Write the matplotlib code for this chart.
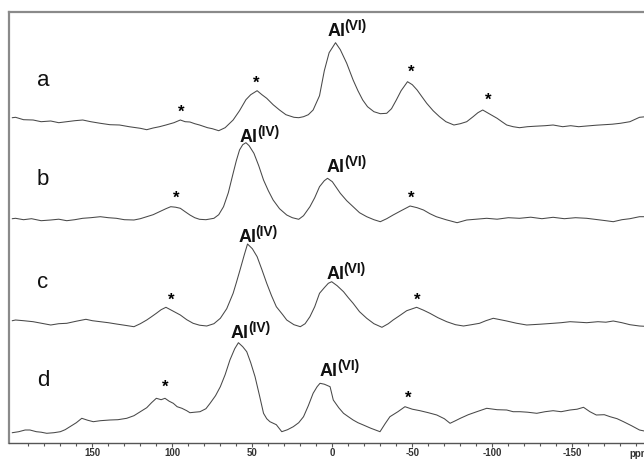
import matplotlib
matplotlib.use("Agg")
import matplotlib.pyplot as plt
import numpy as np

plt.rcParams['font.family'] = ['Liberation Sans', 'DejaVu Sans']

# spectra: chemical shift (ppm) and intensity (arb.)
ppm_a = [200, 198, 193, 187, 182, 176, 171, 166, 161, 156, 151, 145, 139, 133, 127, 120, 116, 112,
         108, 104, 99, 95, 92, 89, 86, 83, 78, 75, 71, 67, 62, 58, 54, 51, 47, 44, 41, 37, 33, 29,
         24, 21, 18, 15, 12, 8, 5, 2, -2, -5, -9, -13, -16, -19, -22, -26, -30, -34, -37, -40, -43,
         -47, -50, -53, -56, -59, -63, -67, -71, -76, -80, -84, -88, -91, -94, -98, -103, -106,
         -109, -113, -117, -122, -127, -133, -138, -144, -149, -154, -159, -165, -170, -175, -180,
         -186, -192, -196, -200]
int_a = [25, 25.4, 23, 22.7, 21, 21.7, 20, 21, 22, 22.7, 21, 19.4, 18, 17.7, 16, 14.4, 13, 14.7,
         16, 17.7, 20, 22.7, 21, 20.7, 19, 17.7, 15, 14, 12, 15, 22.7, 32, 43, 48, 52, 48, 44.4, 38,
         32.7, 28, 25.4, 25, 26, 28, 32.7, 47, 72, 90, 100, 93, 79.4, 62.7, 52, 42.7, 36, 31, 29,
         29.4, 34, 42.7, 52, 61, 58, 52.7, 46, 39.4, 32, 26, 21, 17.7, 19, 21, 26, 30, 32.7, 29,
         24.4, 21, 17.7, 16, 15, 16, 16.5, 17, 17.7, 16, 17, 16, 16.7, 17.5, 18, 18.5, 19.4, 21,
         25.4, 26, 25]

ppm_b = [200, 198, 193, 188, 182, 176, 171, 166, 161, 156, 151, 145, 140, 135, 130, 124, 120, 116,
         112, 108, 104, 101, 98, 95, 92, 89, 86, 83, 79, 74, 71, 68, 65, 62, 60, 58, 56, 54, 52, 49,
         46, 43, 40, 37, 33, 28.5, 25, 21, 18, 14, 11, 8, 5, 3, 0, -5, -9, -13, -17, -21.5, -26,
         -30, -34, -38, -43, -48.6, -53, -57, -61, -65, -71, -78, -84, -90, -96.5, -103, -110,
         -117, -124, -131, -138, -145, -152, -159, -166, -171, -175.6, -181, -186, -192, -200]
int_b = [24, 24.4, 23, 24, 22, 22.7, 23.5, 22, 23, 24.4, 25, 26, 25, 24.4, 23, 22.7, 24, 26, 28,
         31, 34, 36, 35.5, 34.4, 31, 27.7, 25, 23.4, 23, 24.4, 28, 36, 50, 69.4, 82, 92.7, 98, 100,
         97, 89.4, 77, 62.7, 52, 42.7, 34, 27.7, 25, 23.4, 27, 36, 45, 56, 62, 64.4, 61, 49.4, 42,
         36, 30, 26, 23, 21, 24, 27.7, 32, 36.7, 35, 32.7, 29, 26, 23, 20, 22.7, 23.5, 24.4, 23.5,
         25, 24.4, 25.5, 24, 25.4, 24, 25, 24.4, 23, 22, 21, 23, 24, 26, 26]

ppm_c = [200, 198, 193, 187, 182, 176, 171, 166, 160, 154, 150, 145, 140, 135, 130, 124, 120, 116,
         113, 110, 107, 104, 100, 95, 91, 87, 83, 78.5, 74, 70, 66, 62, 60, 57.7, 55, 53, 50, 47,
         44, 41, 38, 35, 31, 28.5, 24, 20, 17, 14, 11, 8, 5, 2.5, 0.4, -3, -7, -10, -13, -17,
         -21.5, -26, -31, -35, -38, -42, -46.5, -52.7, -57, -61, -66, -71.5, -77, -82, -87, -92,
         -96, -100.6, -105, -109, -115, -121.5, -130, -138, -143, -148.6, -154, -159, -166, -171,
         -175.6, -181, -186, -192, -200]
int_c = [22, 22.7, 22, 21, 19.5, 17.7, 19, 19.4, 21.5, 23.4, 22, 21, 20, 18.7, 17.5, 16, 19, 22.7,
         26, 29.4, 33, 35.4, 32, 27.7, 23, 19.4, 17.5, 16.7, 19, 24.4, 34, 49.4, 60, 72.7, 88,
         98.7, 94, 86, 73, 59.4, 47, 36, 28, 22.7, 18, 16, 19, 26, 36, 49.4, 55, 59.4, 61, 57, 51,
         45, 39.4, 31, 24.4, 19, 15.4, 19, 22.7, 27, 32, 35.4, 32.5, 29.4, 25, 21, 18, 16.7, 18,
         19.4, 22, 24.4, 23, 21.7, 19.5, 17.7, 18.5, 19.4, 20, 21, 20.5, 20, 21, 20.5, 21.7, 20,
         18, 16.7, 16]

ppm_d = [200, 196, 192, 189, 185, 182, 178.5, 174, 170, 167, 164, 160, 156.6, 153, 149.4, 145, 139,
         134, 128.5, 124, 120, 116, 113, 110, 107, 104.6, 102, 99.4, 97, 94, 91, 89, 86, 82.7, 79,
         76.4, 73, 70, 67, 64, 61, 58.7, 56, 53.5, 51, 48.3, 45.5, 43, 41, 39, 35, 31.6, 28, 24.4,
         21, 18, 15, 12, 9.5, 7.7, 5, 1.4, -0.6, -4, -7, -10, -13, -16, -19.4, -24, -29.8, -33,
         -36, -41, -45.4, -50, -54.8, -60, -65.3, -70, -73.6, -77, -80, -85, -90.3, -96.5, -103,
         -109, -113, -117.3, -122, -127.8, -133, -138, -143, -148.6, -153, -157, -161, -165, -170,
         -173.6, -178, -182, -187, -192, -200]
int_d = [10, 11, 12.7, 12.7, 11, 10.5, 9.4, 10, 11, 13, 16, 20, 24.4, 22.5, 21, 22, 22.7, 23, 24.4,
         27, 31, 35, 40, 44.4, 43, 44.4, 41.5, 39.4, 36, 34.4, 32, 30, 30.5, 31, 34, 39.4, 47, 56,
         68, 82.7, 94, 100, 96, 91, 80, 66, 47, 29.4, 24, 21, 18, 11, 13, 16, 20, 26, 37, 49.4, 56,
         59.4, 58.5, 56, 42.7, 35, 29.4, 26, 22.7, 20, 17.7, 14.5, 11, 19, 26, 31, 36, 33.5, 32,
         30, 27.7, 24, 19.4, 22, 24.4, 28, 31, 34.4, 33, 32.7, 31, 31, 30.5, 29.4, 31, 32, 31,
         32.7, 33.5, 35.4, 31, 27.7, 28, 26, 24, 21, 17, 12.7, 10]

sample_names = ['a', 'b', 'c', 'd']
offsets = [300, 200, 100, 0]

# annotations: (ppm, height) of spinning sidebands and site labels
stars = [(94.6, 330.7), (47.7, 359.7), (-49.1, 370.7), (-97.3, 342.7),
         (97.7, 244.7), (-49.1, 244.7),
         (100.8, 142.7), (-52.9, 142.7),
         (104.6, 55.7), (-47.3, 44.7)]
site_labels = [('(VI)', 3.1, 406.7),
               ('(IV)', 57.7, 301), ('(VI)', 3.3, 271),
               ('(IV)', 58.8, 201), ('(VI)', 3.5, 163.4),
               ('(IV)', 63.3, 104.4), ('(VI)', 7.7, 66.7)]
name_pos = [(184.8, 357), (184.8, 257.7), (184.8, 154.4), (184.8, 56.7)]


def main():
    fig = plt.figure(figsize=(6.44, 4.59), dpi=100)
    ax = fig.add_axes([9.3 / 644, 16.3 / 459, 643 / 644, 430.7 / 459])

    spectra = [(ppm_a, int_a), (ppm_b, int_b), (ppm_c, int_c), (ppm_d, int_d)]
    for (x, y), off in zip(spectra, offsets):
        ax.plot(x, np.array(y) + off, color='#484848', lw=0.75)

    for name, (x, y) in zip(sample_names, name_pos):
        ax.text(x, y, name, fontsize=16, ha='left', va='baseline', color='#111111')

    for x, y in stars:
        ax.text(x, y, '*', fontsize=12, fontweight='bold', ha='center', va='center')

    # "Al" plus a raised coordination label, drawn as two texts
    for site, x, y in site_labels:
        ax.text(x, y, 'Al', fontsize=13, fontweight='bold', ha='left', va='baseline',
                color='#111111')
        ax.annotate(site, xy=(x, y), xytext=(12.2, 4.2), textcoords='offset points',
                    fontsize=10, fontweight='bold', ha='left', va='baseline', color='#111111')

    ax.set_xlim(201.9, -200)
    ax.set_ylim(0, 430.7)
    ax.set_xticks([150, 100, 50, 0, -50, -100, -150])
    ax.set_xticklabels(['150', '100', '50', '0', '-50', '-100', '-150'],
                       fontsize=7, fontweight='bold', color='#333333')
    ax.set_xticks([t for t in range(-190, 200, 10) if t % 50 != 0], minor=True)
    ax.tick_params(axis='x', which='major', length=3, width=0.8, color='#555555', pad=0.6)
    ax.tick_params(axis='x', which='minor', length=2, width=0.8, color='#555555')
    ax.set_yticks([])
    ax.text(-186, -0.026, 'ppm', transform=ax.get_xaxis_transform(), fontsize=7,
            fontweight='bold', color='#333333', ha='left', va='center')

    for side in ['top', 'left']:
        ax.spines[side].set_color('#8a8a8a')
        ax.spines[side].set_linewidth(1.6)
    ax.spines['bottom'].set_color('#555555')
    ax.spines['bottom'].set_linewidth(1.0)
    ax.spines['right'].set_visible(False)

    fig.savefig('out.png', dpi=100)


if __name__ == "__main__":
    main()
